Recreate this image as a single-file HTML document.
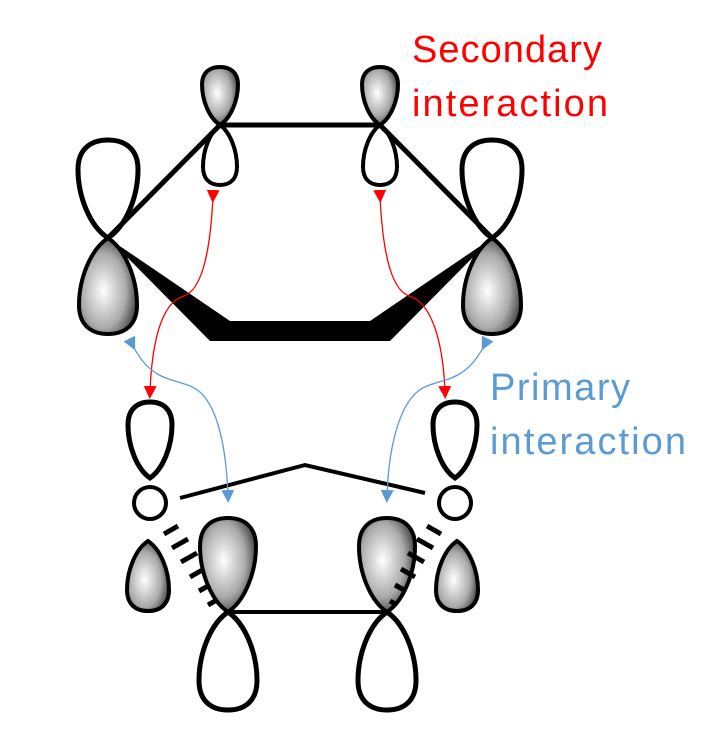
<!DOCTYPE html>
<html><head><style>body{margin:0;background:#fff}svg{display:block}</style></head><body>
<svg width="705" height="730" viewBox="0 0 705 730" xmlns="http://www.w3.org/2000/svg">
<defs>
<radialGradient id="g" cx="0.42" cy="0.55" r="0.6">
<stop offset="0" stop-color="#fff"/><stop offset="0.65" stop-color="#aaa"/><stop offset="1" stop-color="#444"/>
</radialGradient>
<path id="L" vector-effect="non-scaling-stroke" d="M0,0 C-0.3,0.12 -0.5,0.42 -0.5,0.7 C-0.5,0.9 -0.3,1 0,1 C0.3,1 0.5,0.9 0.5,0.7 C0.5,0.42 0.3,0.12 0,0Z"/>
<marker id="ar" markerWidth="13" markerHeight="13" refX="6" refY="6.5" orient="auto" markerUnits="userSpaceOnUse" viewBox="0 0 13 13"><path d="M0,0 L13,6.5 L0,13Z" fill="#f00"/></marker>
<marker id="ab" markerWidth="13" markerHeight="13" refX="6" refY="6.5" orient="auto" markerUnits="userSpaceOnUse" viewBox="0 0 13 13"><path d="M0,0 L13,6.5 L0,13Z" fill="#5b9bd5"/></marker>
</defs>
<g stroke="#000" stroke-width="4" fill="none">
<use href="#L" fill="url(#g)" transform="translate(220,125) scale(36,-58)"/>
<use href="#L" transform="translate(220,125) scale(34,60)"/>
<use href="#L" fill="url(#g)" transform="translate(380,125) scale(36,-58)"/>
<use href="#L" transform="translate(380,125) scale(34,60)"/>
<use href="#L" stroke-width="5" transform="translate(108,238) scale(60,-98)"/>
<use href="#L" fill="url(#g)" transform="translate(108,238) scale(58,96)"/>
<use href="#L" stroke-width="5" transform="translate(492,238) scale(60,-98)"/>
<use href="#L" fill="url(#g)" transform="translate(492,238) scale(58,96)"/>
<path d="M108,238 L220,125 L380,125 L492,238" stroke-width="5"/>
<polygon points="108,238 230,321 370,321 492,238 390,341 210,341" fill="#000" stroke="none"/>
<use href="#L" stroke-width="5" transform="translate(150,478) scale(44,-76)"/>
<use href="#L" stroke-width="5" transform="translate(455,478) scale(44,-76)"/>
<circle cx="150" cy="503" r="16"/>
<circle cx="455" cy="503" r="16"/>
<use href="#L" fill="url(#g)" transform="translate(148,541) scale(42,70)"/>
<use href="#L" fill="url(#g)" transform="translate(457,541) scale(42,70)"/>
<use href="#L" fill="url(#g)" transform="translate(228,612) scale(56,-94)"/>
<use href="#L" stroke-width="5" transform="translate(228,612) scale(58,98)"/>
<use href="#L" fill="url(#g)" transform="translate(387,612) scale(56,-94)"/>
<use href="#L" stroke-width="5" transform="translate(387,612) scale(58,98)"/>
<line x1="228" y1="612" x2="387" y2="612"/>
<path d="M180,498 L305,465 L425,493"/>
<g stroke-width="5">
<line x1="164" y1="534" x2="178" y2="526"/><line x1="172" y1="548" x2="188" y2="539"/><line x1="181" y1="562" x2="197" y2="553"/><line x1="190" y1="577" x2="204" y2="569"/><line x1="199" y1="591" x2="210" y2="585"/><line x1="208" y1="605" x2="215" y2="601"/>
<line x1="441" y1="534" x2="427" y2="526"/><line x1="433" y1="548" x2="417" y2="539"/><line x1="424" y1="562" x2="408" y2="553"/><line x1="415" y1="577" x2="401" y2="569"/><line x1="406" y1="591" x2="395" y2="585"/><line x1="397" y1="605" x2="390" y2="601"/>
</g>
</g>
<g fill="none" stroke-width="1.3">
<path d="M213,196 C210,260 200,290 184,296 C162,302 152,340 150,392" stroke="#f00" marker-start="url(#ar)" marker-end="url(#ar)"/>
<path d="M380,196 C383,260 393,290 409,296 C431,302 443,340 445,392" stroke="#f00" marker-start="url(#ar)" marker-end="url(#ar)"/>
<path d="M132,344 C150,380 170,378 190,386 C215,395 226,440 228,496" stroke="#5b9bd5" marker-start="url(#ab)" marker-end="url(#ab)"/>
<path d="M485,344 C467,380 447,378 427,386 C402,395 389,440 387,496" stroke="#5b9bd5" marker-start="url(#ab)" marker-end="url(#ab)"/>
</g>
<g font-family="Liberation Sans, sans-serif" font-size="38">
<text x="412" y="62" fill="#f00" textLength="190">Secondary</text>
<text x="412" y="116" fill="#f00" textLength="196">interaction</text>
<text x="490" y="400" fill="#5b9bd5" textLength="140">Primary</text>
<text x="490" y="454" fill="#5b9bd5" textLength="196">interaction</text>
</g>
</svg>
</body></html>
